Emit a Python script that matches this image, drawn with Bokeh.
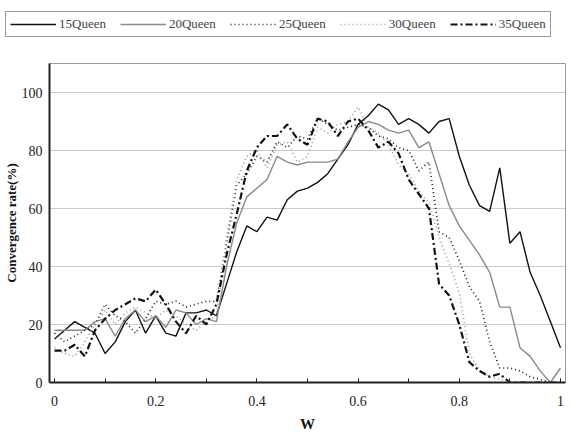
from bokeh.plotting import figure
from bokeh.models import Legend, LegendItem, FixedTicker, ColumnDataSource
from bokeh.embed import file_html
from bokeh.resources import INLINE

w = [round(i * 0.02, 2) for i in range(51)]

q15 = [15, 18, 21, 19, 17, 10, 14, 21, 25, 17, 23, 17, 16, 24, 24, 25, 23,
       34, 45, 54, 52, 57, 56, 63, 66, 67, 69, 72, 77, 82, 89, 92, 96, 94,
       89, 91, 89, 86, 90, 91, 78, 68, 61, 59, 74, 48, 52, 38, 30, 21, 12]
q20 = [18, 18, 18, 18, 21, 22, 16, 22, 25, 21, 23, 19, 25, 24, 20, 22, 21,
       40, 55, 64, 67, 70, 78, 76, 75, 76, 76, 76, 77, 83, 88, 90, 89, 87,
       86, 87, 81, 83, 72, 61, 54, 49, 44, 38, 26, 26, 12, 9, 4, 0, 5]
q25 = [17, 14, 16, 18, 20, 27, 23, 21, 17, 22, 28, 27, 28, 26, 27, 28, 28,
       48, 68, 72, 78, 76, 83, 81, 85, 84, 91, 89, 87, 88, 89, 88, 85, 84,
       81, 80, 73, 76, 52, 50, 42, 33, 28, 14, 5, 5, 4, 2, 1, 0, 0]
q30 = [12, 10, 9, 14, 20, 25, 20, 24, 26, 24, 22, 25, 23, 20, 18, 21, 23,
       50, 70, 78, 80, 74, 82, 83, 76, 78, 88, 86, 89, 90, 95, 88, 86, 82,
       75, 72, 66, 62, 50, 41, 31, 10, 4, 2, 1, 0, 0, 0, 0, 0, 0]
q35 = [11, 11, 13, 9, 18, 22, 25, 27, 29, 28, 32, 27, 21, 17, 23, 20, 27,
       44, 58, 73, 81, 85, 85, 89, 84, 82, 91, 90, 85, 90, 91, 87, 81, 83,
       79, 70, 65, 60, 34, 30, 20, 7, 4, 2, 3, 0, 0, 0, 0, 0, 0]

names = ["15Queen", "20Queen", "25Queen", "30Queen", "35Queen"]
cols = ["q15", "q20", "q25", "q30", "q35"]
x_ticks = [0, 0.2, 0.4, 0.6, 0.8, 1]
y_ticks = [0, 20, 40, 60, 80, 100]

FONT = "Liberation Serif"

styles = [
    ("#111111", 1.4, "solid"),
    ("#8a8a8a", 1.4, "solid"),
    ("#222222", 1.7, "1 3"),
    ("#a0a0a0", 1.7, "1 3"),
    ("#111111", 2.2, "7 3 2 3"),
]

src = ColumnDataSource(dict(w=w, q15=q15, q20=q20, q25=q25, q30=q30, q35=q35))

# ---- legend strip (top); its ranges keep the series themselves out of view ----
leg_fig = figure(width=574, height=50, output_backend="svg", toolbar_location=None,
                 x_axis_location=None, y_axis_location=None,
                 min_border=0, min_border_left=0, min_border_right=0,
                 min_border_top=0, min_border_bottom=0,
                 x_range=(5, 6), y_range=(500, 600))
leg_fig.grid.visible = False
leg_fig.outline_line_color = None
items = []
for (color, lw, dash), name, col in zip(styles, names, cols):
    r = leg_fig.line("w", col, source=src, line_color=color, line_width=lw,
                     line_dash=dash)
    items.append(LegendItem(label=name, renderers=[r]))
legend = Legend(items=items, orientation="horizontal", location=(5, 13),
                border_line_color="#333333", border_line_width=1.5,
                background_fill_color="white", background_fill_alpha=1,
                label_text_font=FONT, label_text_font_size="13px",
                glyph_width=46, glyph_height=14, label_standoff=3,
                spacing=14, padding=4, margin=0, label_height=15)
leg_fig.add_layout(legend, "center")

# ---- main chart ----
p = figure(width=574, height=384, output_backend="svg", toolbar_location=None,
           x_range=(-0.0099, 1.0099), y_range=(0, 110),
           min_border_left=49, min_border_right=9, min_border_top=13,
           min_border_bottom=51)

for (color, lw, dash), col in zip(styles, cols):
    p.line("w", col, source=src, line_color=color, line_width=lw, line_dash=dash)

p.xaxis.ticker = FixedTicker(ticks=x_ticks, minor_ticks=[i * 0.1 for i in range(11)])
p.yaxis.ticker = FixedTicker(ticks=y_ticks)
p.xaxis.major_tick_in = 4
p.xaxis.major_tick_out = 0
p.xaxis.minor_tick_in = 4
p.xaxis.minor_tick_out = 0
p.yaxis.major_tick_in = 0
p.yaxis.major_tick_out = 0
p.axis.axis_line_color = "#222222"
p.axis.axis_line_width = 2
p.axis.major_tick_line_color = "#222222"
p.xaxis.minor_tick_line_color = "#222222"
p.yaxis.minor_tick_line_color = None
p.axis.major_label_text_font = FONT
p.axis.major_label_text_font_size = "14px"
p.axis.major_label_text_color = "#222222"
p.xaxis.major_label_standoff = 13
p.yaxis.major_label_standoff = 7

p.xaxis.axis_label = "W"
p.yaxis.axis_label = "Convergence rate(%)"
p.axis.axis_label_text_font = FONT
p.axis.axis_label_text_font_style = "bold"
p.axis.axis_label_text_color = "#111111"
p.xaxis.axis_label_text_font_size = "15px"
p.yaxis.axis_label_text_font_size = "13px"
p.xaxis.axis_label_standoff = 7
p.yaxis.axis_label_standoff = 0

p.xgrid.grid_line_color = None
p.ygrid.grid_line_color = "#cccccc"
p.ygrid.grid_line_width = 1
p.outline_line_color = "#999999"
p.outline_line_width = 1

open("out.html", "w").write(file_html([leg_fig, p], INLINE))
